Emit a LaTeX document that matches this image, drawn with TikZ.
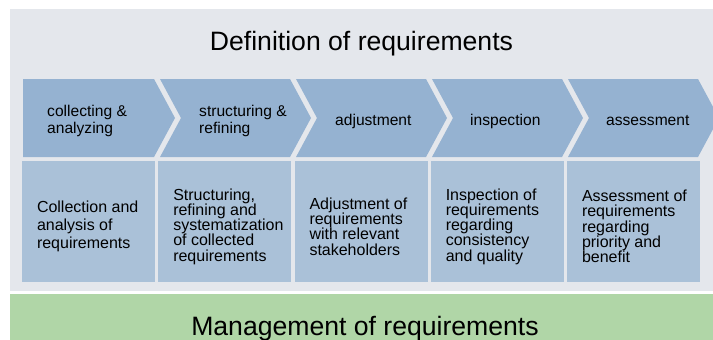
\documentclass[tikz,border=0pt]{standalone}
\usepackage{fontspec}
\setmainfont{Liberation Sans}
\usetikzlibrary{positioning}

\definecolor{bggray}{RGB}{228,231,236}
\definecolor{chevblue}{RGB}{149,178,209}
\definecolor{boxblue}{RGB}{170,193,216}
\definecolor{mgmtgreen}{RGB}{176,214,167}

\newcommand{\tightlines}{\fontsize{16}{15.3}\selectfont\lineskiplimit=-5pt\relax}

\begin{document}
\begin{tikzpicture}[x=1pt, y=-1pt,
    chevron/.style={fill=chevblue},
    descbox/.style={fill=boxblue, minimum width=133pt, minimum height=121pt, inner sep=0pt},
    steplabel/.style={anchor=west, align=left, inner sep=0pt, font=\fontsize{15.6}{17}\selectfont},
    desctext/.style={align=left, inner sep=0pt, yshift=-5pt, font=\tightlines},
    bigtitle/.style={anchor=base, inner sep=0pt, font=\fontsize{26.6}{32}\selectfont}]
    \useasboundingbox (0,0) rectangle (713,340);

    % Fonds
    \fill[bggray]    (10,9)   rectangle (713,291);
    \fill[mgmtgreen] (10,294) rectangle (713,340);

    % Titres
    \node[bigtitle] (def)  at (361.5,50) {Definition of requirements};
    \node[bigtitle] (mgmt) at (365,335)  {Management of requirements};

    % Chevrons des etapes
    \fill[chevron] (23,79) -- (154,79) -- (175,118) -- (154,157) -- (23,157) -- cycle;
    \fill[chevron] (160,79) -- (290,79) -- (311,118) -- (290,157) -- (160,157) -- (181,118) -- cycle;
    \fill[chevron] (296,79) -- (426,79) -- (447,118) -- (426,157) -- (296,157) -- (317,118) -- cycle;
    \fill[chevron] (432,79) -- (562,79) -- (583,118) -- (562,157) -- (432,157) -- (453,118) -- cycle;
    \fill[chevron] (568,79) -- (698,79) -- (719,118) -- (698,157) -- (568,157) -- (589,118) -- cycle;

    % Noms des etapes
    \node[steplabel] (s1) at (47,121)  {collecting \&\\ analyzing};
    \node[steplabel] (s2) at (199,121) {structuring \&\\ refining};
    \node[steplabel] (s3) at (335,121) {adjustment};
    \node[steplabel] (s4) at (470,121) {inspection};
    \node[steplabel] (s5) at (606,121) {assessment};

    % Cases de description
    \node[descbox] (d1) at (88.5,221.5)   {};
    \node[descbox] (d2) at (224.75,221.5) {};
    \node[descbox] (d3) at (361,221.5)    {};
    \node[descbox] (d4) at (497.25,221.5) {};
    \node[descbox] (d5) at (633.5,221.5)  {};

    % Textes de description
    \node[desctext, font=\fontsize{16}{18}\selectfont, right=15pt of d1.west] (t1)
        {Collection and\\ analysis of\\ requirements};
    \node[desctext, right=15pt of d2.west] (t2)
        {Structuring,\\ refining and\\ systematization\\ of collected\\ requirements};
    \node[desctext, right=15pt of d3.west] (t3)
        {Adjustment of\\ requirements\\ with relevant\\ stakeholders};
    \node[desctext, right=15pt of d4.west] (t4)
        {Inspection of\\ requirements\\ regarding\\ consistency\\ and quality};
    \node[desctext, right=15pt of d5.west] (t5)
        {Assessment of\\ requirements\\ regarding\\ priority and\\ benefit};

\end{tikzpicture}
\end{document}
